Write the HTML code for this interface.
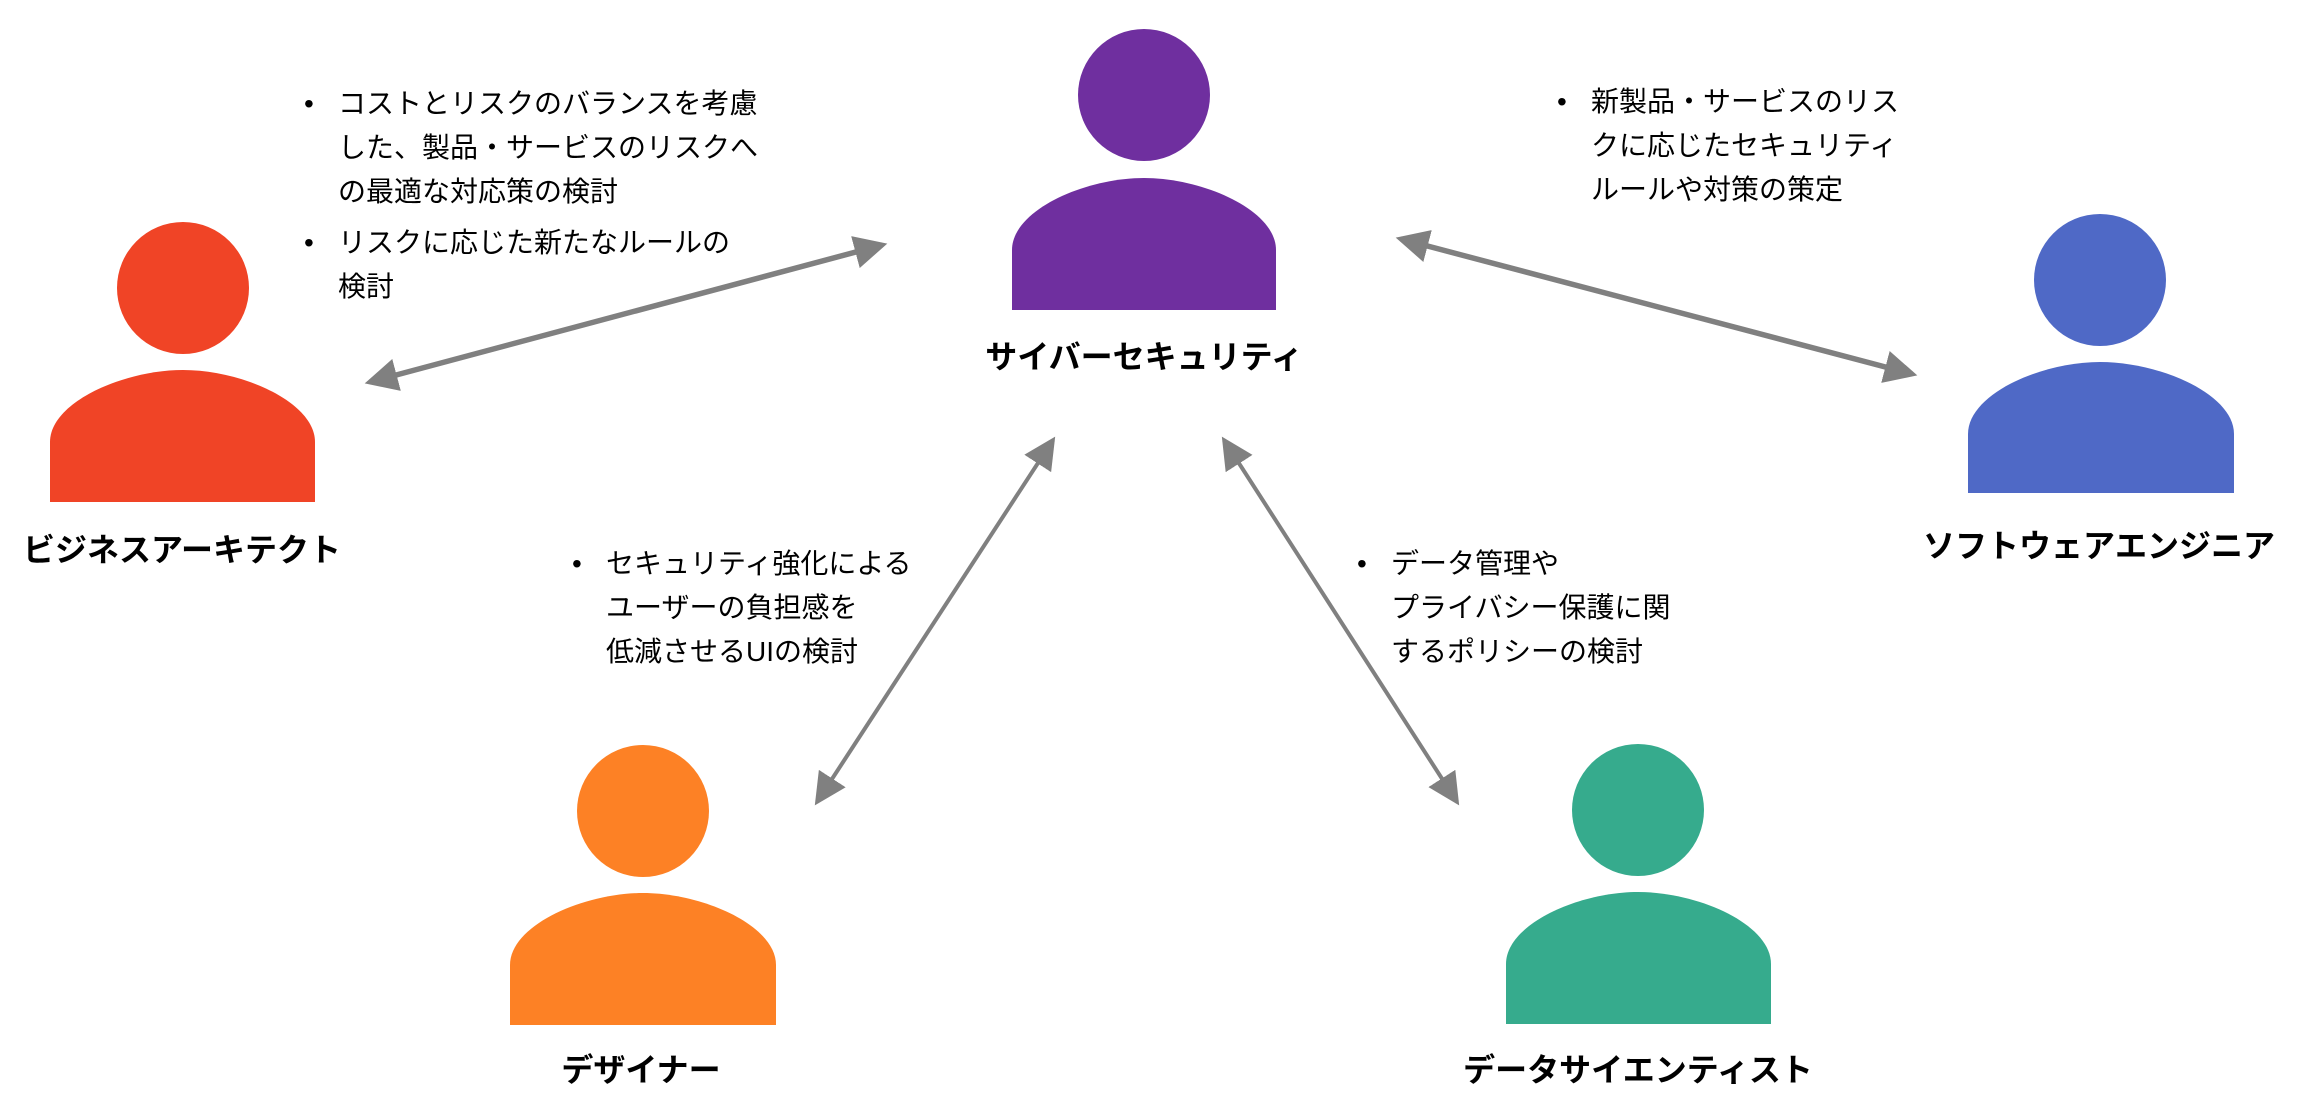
<!DOCTYPE html>
<html><head><meta charset="utf-8"><style>
html,body{margin:0;padding:0;background:#fff;}
body{width:2300px;height:1104px;position:relative;overflow:hidden;font-family:"Liberation Sans","Noto Sans CJK JP",sans-serif;}
.t{position:absolute;font-size:32px;font-weight:bold;color:#000;white-space:nowrap;transform:translateX(-50%);line-height:40px;}
.b{position:absolute;font-size:28px;color:#000;white-space:nowrap;line-height:44px;}
.b .d{position:absolute;left:-34px;}
</style></head><body>
<svg width="2300" height="1104" style="position:absolute;left:0;top:0">
<defs>
<marker id="a" markerWidth="6" markerHeight="6" refX="5" refY="3" orient="auto-start-reverse" markerUnits="strokeWidth">
<path d="M0,0 L6,3 L0,6 Z" fill="#808080"/></marker>
<marker id="b" markerWidth="8" markerHeight="8" refX="7" refY="4" orient="auto-start-reverse" markerUnits="strokeWidth">
<path d="M0,0 L8,4 L0,8 Z" fill="#808080"/></marker>
</defs>
<g fill="#6f2f9f"><ellipse cx="1144" cy="95" rx="66" ry="66"/><path d="M1012,310 V250 C1012,210 1085,178 1144,178 C1203,178 1276,210 1276,250 V310 Z"/></g>
<g fill="#f04426"><ellipse cx="183" cy="288" rx="66" ry="66"/><path d="M50,502 V442 C50,402 124,370 183,370 C242,370 315,402 315,442 V502 Z"/></g>
<g fill="#4f69c6"><ellipse cx="2100" cy="280" rx="66" ry="66"/><path d="M1968,493 V434 C1968,394 2041,362 2100,362 C2160,362 2234,394 2234,434 V493 Z"/></g>
<g fill="#fd8125"><ellipse cx="643" cy="811" rx="66" ry="66"/><path d="M510,1025 V965 C510,925 584,893 643,893 C702,893 776,925 776,965 V1025 Z"/></g>
<g fill="#36ab8d"><ellipse cx="1638" cy="810" rx="66" ry="66"/><path d="M1506,1024 V964 C1506,924 1579,892 1638,892 C1698,892 1771,924 1771,964 V1024 Z"/></g>
<g stroke="#808080" stroke-width="5.5" marker-start="url(#a)" marker-end="url(#a)">
<line x1="370" y1="382" x2="882" y2="245"/>
<line x1="1401" y1="239" x2="1912" y2="374"/>
</g>
<g stroke="#808080" stroke-width="4" marker-start="url(#b)" marker-end="url(#b)">
<line x1="817" y1="802" x2="1053" y2="440"/>
<line x1="1224" y1="440" x2="1457" y2="802"/>
</g>
</svg>
<div class="t" style="left:1144px;top:337px">サイバーセキュリティ</div>
<div class="t" style="left:182px;top:530px">ビジネスアーキテクト</div>
<div class="t" style="left:2099px;top:526px">ソフトウェアエンジニア</div>
<div class="t" style="left:641px;top:1050px">デザイナー</div>
<div class="t" style="left:1638px;top:1050px">データサイエンティスト</div>
<div class="b" style="left:338px;top:82px"><span class="d">•</span>コストとリスクのバランスを考慮<br>した、製品・サービスのリスクへ<br>の最適な対応策の検討</div>
<div class="b" style="left:338px;top:221px"><span class="d">•</span>リスクに応じた新たなルールの<br>検討</div>
<div class="b" style="left:1591px;top:80px"><span class="d">•</span>新製品・サービスのリス<br>クに応じたセキュリティ<br>ルールや対策の策定</div>
<div class="b" style="left:606px;top:542px"><span class="d">•</span>セキュリティ強化による<br>ユーザーの負担感を<br>低減させるUIの検討</div>
<div class="b" style="left:1391px;top:542px"><span class="d">•</span>データ管理や<br>プライバシー保護に関<br>するポリシーの検討</div>
</body></html>
